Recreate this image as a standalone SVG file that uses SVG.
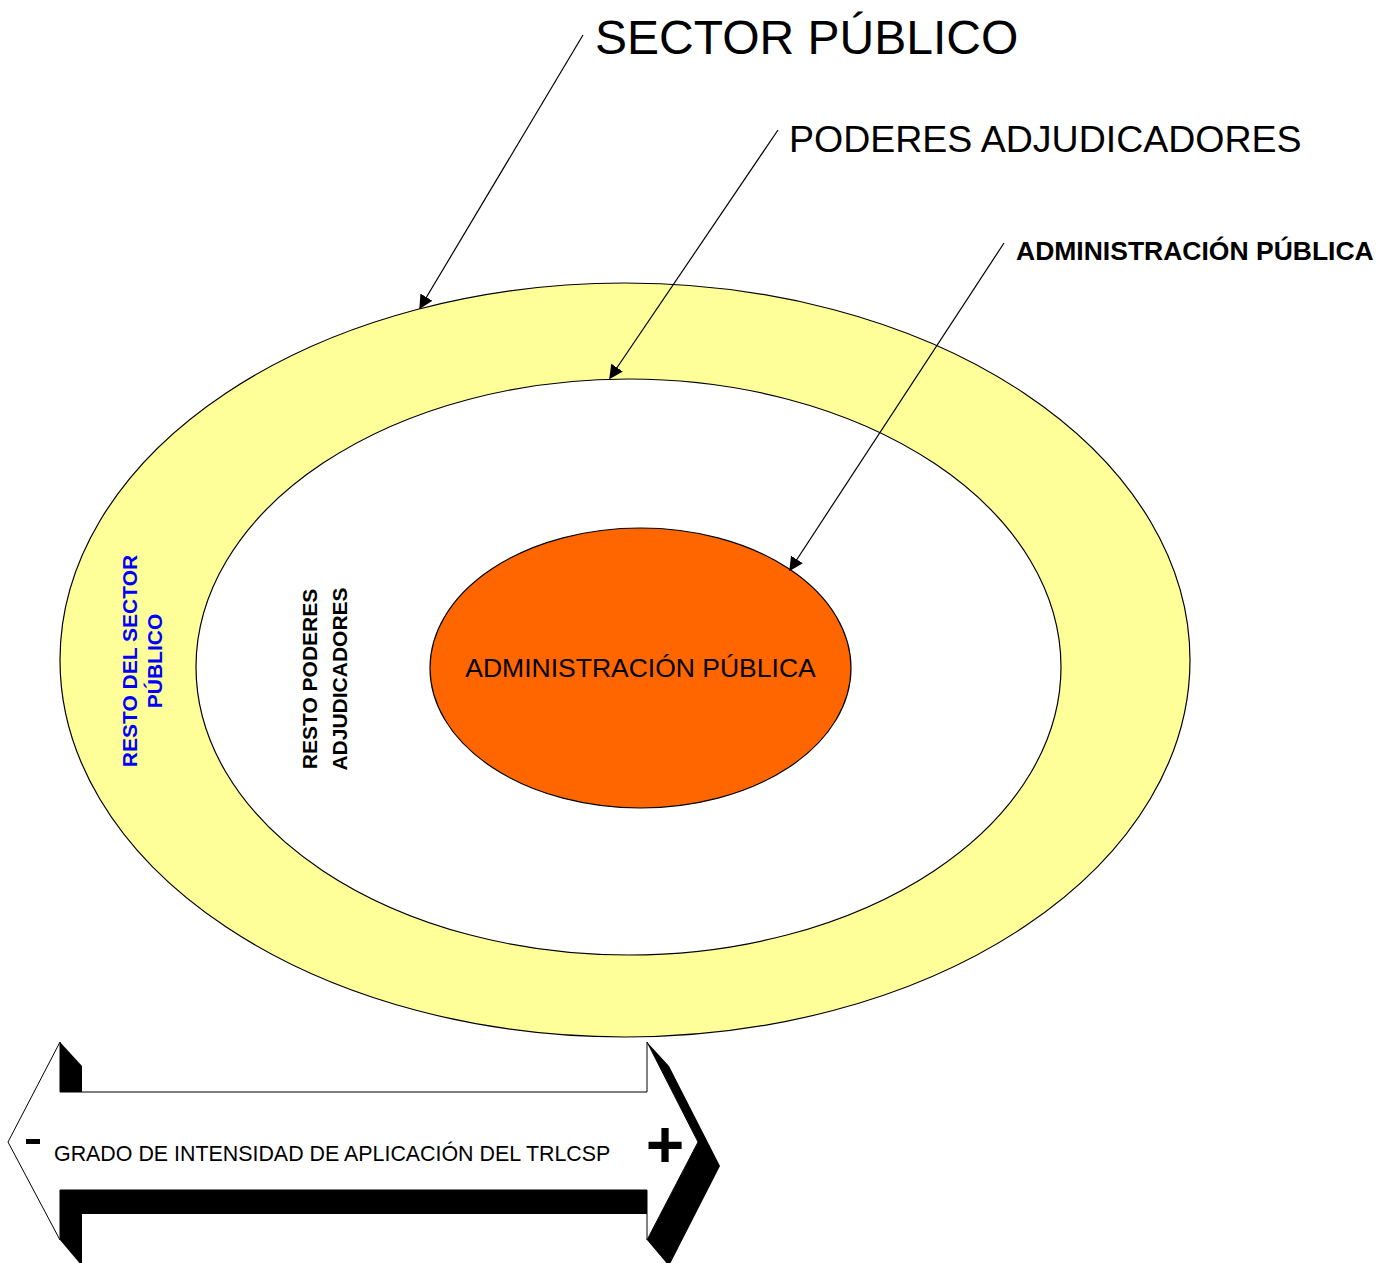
<svg xmlns="http://www.w3.org/2000/svg" width="1394" height="1263" viewBox="0 0 1394 1263">
<style>
.t{font-family:"Liberation Sans",Arial,sans-serif;fill:#000}
.b{font-weight:bold}
.ln{stroke:#000;stroke-width:1.2;fill:none}
.sh{fill:#000}
</style>
<defs>
<marker id="ah" viewBox="0 0 10 10" refX="9" refY="5" markerWidth="14" markerHeight="14" markerUnits="userSpaceOnUse" orient="auto">
<path d="M0,0 L10,5 L0,10 Z" fill="#000"/>
</marker>
</defs>
<rect width="1394" height="1263" fill="#fff"/>
<g id="sector-publico">
<ellipse cx="625" cy="660" rx="565" ry="377" fill="#FFFF99" stroke="#000" stroke-width="1.2"/>
<text class="t b" font-size="21" style="fill:#0000FF" text-anchor="middle" transform="translate(137,661) rotate(-90)">RESTO DEL SECTOR</text>
<text class="t b" font-size="21" style="fill:#0000FF" text-anchor="middle" transform="translate(162,661) rotate(-90)">PÚBLICO</text>
</g>
<g id="poderes-adjudicadores">
<ellipse cx="628.5" cy="667" rx="432.5" ry="288" fill="#fff" stroke="#000" stroke-width="1.2"/>
<text class="t b" font-size="21" text-anchor="middle" transform="translate(317,679) rotate(-90)">RESTO PODERES</text>
<text class="t b" font-size="21" text-anchor="middle" transform="translate(347,679) rotate(-90)">ADJUDICADORES</text>
</g>
<g id="administracion-publica">
<ellipse cx="640.5" cy="668" rx="210.5" ry="140" fill="#FF6600" stroke="#000" stroke-width="1.2"/>
<text class="t" font-size="26.5" x="640.5" y="677" text-anchor="middle">ADMINISTRACIÓN PÚBLICA</text>
</g>
<g id="labels">
<text class="t" font-size="48" x="595" y="54">SECTOR PÚBLICO</text>
<text class="t" font-size="37.5" x="789" y="152">PODERES ADJUDICADORES</text>
<text class="t b" font-size="26.5" x="1016" y="260">ADMINISTRACIÓN PÚBLICA</text>
</g>
<g id="connectors">
<line class="ln" x1="583" y1="35" x2="420" y2="308" marker-end="url(#ah)"/>
<line class="ln" x1="778" y1="130" x2="610" y2="378" marker-end="url(#ah)"/>
<line class="ln" x1="1004" y1="243" x2="790" y2="570" marker-end="url(#ah)"/>
</g>
<g id="intensity-arrow">
<polygon class="sh" points="60,1042 82,1066 82,1092 60,1092"/>
<polygon class="sh" points="60,1190 647,1190 669,1214 82,1214 82,1266 60,1240"/>
<polygon class="sh" points="647,1042 669,1066 720,1166 669,1266 647,1240 698,1142"/>
<polygon points="8,1142 60,1042 60,1092 647,1092 647,1042 698,1142 647,1240 647,1190 60,1190 60,1240" fill="#fff" stroke="#000" stroke-width="1"/>
<text class="t" font-size="21.4" x="54" y="1161">GRADO DE INTENSIDAD DE APLICACIÓN DEL TRLCSP</text>
<rect x="26" y="1139" width="14" height="5" fill="#000"/>
<text class="t b" font-size="66" x="665" y="1167" text-anchor="middle">+</text>
</g>
</svg>
